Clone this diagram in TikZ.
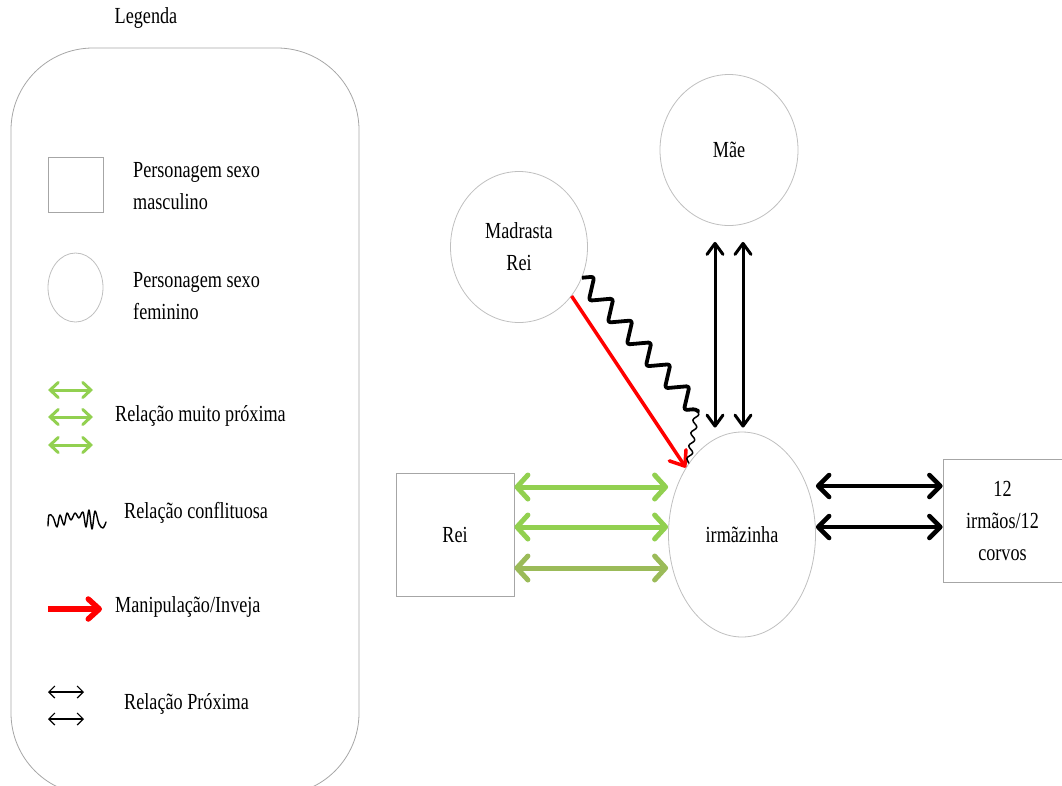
\documentclass[tikz,border=0pt]{standalone}
\usepackage{fontspec}
\setmainfont{Liberation Serif}[FakeStretch=0.79]
\usetikzlibrary{arrows.meta,shapes.geometric,decorations.pathmorphing,calc}
\definecolor{lightgreen}{HTML}{92D050}
\definecolor{olivegreen}{HTML}{9BBB59}
\definecolor{shapegray}{HTML}{BFBFBF}
\definecolor{boxgray}{HTML}{A6A6A6}
\begin{document}
\begin{tikzpicture}[x=1pt,y=1pt,
  every node/.style={font=\fontsize{23}{32}\selectfont, text=black},
  person/.style={draw=boxgray, line width=0.8pt, rectangle, inner sep=0pt},
  female/.style={draw=shapegray, line width=0.8pt, ellipse, inner sep=0pt},
  label/.style={anchor=west, align=left, inner sep=0pt},
  verynear/.style={line width=5pt, {Straight Barb[length=11pt,width=24pt,line cap=round,line join=round]}-{Straight Barb[length=11pt,width=24pt,line cap=round,line join=round]}},
  nearrel/.style={draw=black, line width=4.5pt, {Straight Barb[length=11pt,width=22pt,line cap=round,line join=round]}-{Straight Barb[length=11pt,width=22pt,line cap=round,line join=round]}},
  vertrel/.style={draw=black, line width=3pt, {Straight Barb[length=11pt,width=16pt,line cap=round,line join=round]}-{Straight Barb[length=11pt,width=16pt,line cap=round,line join=round]}},
  envy/.style={draw=red, line width=3.5pt, -{Straight Barb[length=13pt,width=20pt,line cap=round,line join=round]}},
  conflict/.style={draw=black, line width=3.8pt, line join=round, decorate, decoration={zigzag, amplitude=10pt, segment length=29pt}},
]
\useasboundingbox (0,0) rectangle (1062,-785);
\clip (0,0) rectangle (1062,-785);

% ---- legend ----
\node (legtitle) at (146,-18) {Legenda};
\draw[boxgray, line width=0.8pt, rounded corners=82pt] (11,-48) rectangle (359,-795);

\node[person, minimum width=55pt, minimum height=55pt] (legsq) at (75.5,-184.5) {};
\node[label] (legsqtxt) at (133,-186) {Personagem sexo\\masculino};

\node[female, minimum width=55pt, minimum height=69pt] (legci) at (75.5,-287.5) {};
\node[label] (legcitxt) at (133,-296) {Personagem sexo\\feminino};

\coordinate (lg1a) at (48,-390); \coordinate (lg1b) at (93,-390);
\coordinate (lg2a) at (48,-417); \coordinate (lg2b) at (93,-417);
\coordinate (lg3a) at (48,-445); \coordinate (lg3b) at (93,-445);
\foreach \i in {1,2,3}
  \draw[lightgreen, line width=3pt, {Straight Barb[length=8pt,width=15pt,line cap=round]}-{Straight Barb[length=8pt,width=15pt,line cap=round]}] (lg\i a) -- (lg\i b);
\node[label] (legvn) at (115,-416) {Relação muito próxima};

\draw[black, line width=1.4pt, line join=round, line cap=round]
  plot[smooth, tension=0.55] coordinates {(48,-526) (49,-515) (53,-517) (57,-527) (60,-515) (64,-525) (67,-513) (71,-520) (75,-513) (79,-518) (83,-512) (86,-527) (89,-510) (92,-529) (95,-511) (99,-524) (103,-528) (106,-522)};
\node[label] (legcf) at (124,-513) {Relação conflituosa};

\coordinate (lra) at (48,-609); \coordinate (lrb) at (102,-609);
\draw[red, line width=5.5pt, -{Straight Barb[length=11pt,width=20pt,line cap=round,line join=round]}] (lra) -- (lrb);
\node[label] (legmi) at (115,-607) {Manipulação/Inveja};

\coordinate (lb1a) at (48,-692); \coordinate (lb1b) at (84,-692);
\coordinate (lb2a) at (48,-719); \coordinate (lb2b) at (84,-719);
\foreach \i in {1,2}
  \draw[black, line width=1.2pt, {Straight Barb[length=6pt,width=12pt]}-{Straight Barb[length=6pt,width=12pt]}] (lb\i a) -- (lb\i b);
\node[label] (legnr) at (124,-704) {Relação Próxima};

% ---- family diagram ----
\node[female, minimum width=138pt, minimum height=151pt, align=center] (mae) at (729,-150) {Mãe};
\node[female, minimum width=137pt, minimum height=151pt, align=center] (madrasta) at (519,-247) {Madrasta\\Rei};
\node[female, minimum width=147pt, minimum height=205pt, align=center] (irma) at (742,-534.5) {irmãzinha};
\node[person, minimum width=118pt, minimum height=123pt] (rei) at (455,-534.5) {Rei};
\node[person, minimum width=119pt, minimum height=123pt, align=center] (irmaos) at (1002.5,-520.5) {12\\irmãos/12\\corvos};

% very close relation: Rei -- irmãzinha
\draw[verynear, lightgreen] ([yshift=47.5pt]rei.east) -- ([yshift=47.5pt]rei.east -| irma.west);
\draw[verynear, lightgreen] ([yshift=7.5pt]rei.east) -- ([yshift=7.5pt]rei.east -| irma.west);
\draw[verynear, olivegreen] ([yshift=-33.5pt]rei.east) -- ([yshift=-33.5pt]rei.east -| irma.west);

% close relation: irmãzinha -- 12 irmãos
\draw[nearrel] ([yshift=34.5pt]irmaos.west -| irma.east) -- ([yshift=34.5pt]irmaos.west);
\draw[nearrel] ([yshift=-6.5pt]irmaos.west -| irma.east) -- ([yshift=-6.5pt]irmaos.west);

% close relation: Mãe -- irmãzinha
\draw[vertrel] ([xshift=-14pt,yshift=-16pt]mae.south) -- ([xshift=-27pt,yshift=4pt]irma.north);
\draw[vertrel] ([xshift=14pt,yshift=-16pt]mae.south) -- ([xshift=1pt,yshift=4pt]irma.north);

% envy / manipulation: Madrasta -> irmãzinha
\draw[envy] (madrasta.-43) -- (irma.130);

% conflict: Madrasta -- irmãzinha
\coordinate (cfmid) at (697,-410);
\draw[conflict, rounded corners=3pt] (madrasta.-26) -- (cfmid);
\draw[black, line width=1.5pt, line join=round, decorate, decoration={snake, amplitude=2.5pt, segment length=13pt}] (cfmid) -- (irma.127);
\end{tikzpicture}
\end{document}
